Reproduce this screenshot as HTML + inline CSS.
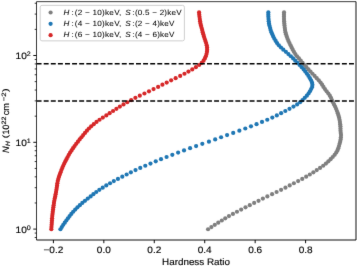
<!DOCTYPE html>
<html><head><meta charset="utf-8"><style>
html,body{margin:0;padding:0;background:#fff;}
svg{display:block;will-change:transform;text-rendering:geometricPrecision;font-family:"Liberation Sans",sans-serif;}
</style></head><body>
<svg width="357" height="266" viewBox="0 0 357 266">
<defs><filter id="bl" x="0" y="0" width="357" height="266" filterUnits="userSpaceOnUse" color-interpolation-filters="sRGB"><feConvolveMatrix order="3" kernelMatrix="0.00524 0.06192 0.00524 0.06192 0.73137 0.06192 0.00524 0.06192 0.00524" divisor="1" edgeMode="none"/></filter></defs>
<rect width="357" height="266" fill="#fff"/>
<g filter="url(#bl)">
<g fill="#7f7f7f"><circle cx="208.06" cy="229.25" r="2.1"/><circle cx="211.41" cy="227.06" r="2.1"/><circle cx="214.81" cy="224.87" r="2.1"/><circle cx="218.27" cy="222.68" r="2.1"/><circle cx="221.81" cy="220.49" r="2.1"/><circle cx="225.26" cy="218.30" r="2.1"/><circle cx="228.96" cy="216.11" r="2.1"/><circle cx="232.95" cy="213.92" r="2.1"/><circle cx="236.98" cy="211.73" r="2.1"/><circle cx="241.16" cy="209.54" r="2.1"/><circle cx="245.50" cy="207.35" r="2.1"/><circle cx="249.78" cy="205.16" r="2.1"/><circle cx="254.15" cy="202.97" r="2.1"/><circle cx="258.53" cy="200.78" r="2.1"/><circle cx="262.89" cy="198.59" r="2.1"/><circle cx="267.36" cy="196.40" r="2.1"/><circle cx="272.08" cy="194.21" r="2.1"/><circle cx="276.59" cy="192.02" r="2.1"/><circle cx="281.10" cy="189.83" r="2.1"/><circle cx="285.44" cy="187.64" r="2.1"/><circle cx="289.68" cy="185.45" r="2.1"/><circle cx="293.87" cy="183.26" r="2.1"/><circle cx="298.15" cy="181.07" r="2.1"/><circle cx="302.24" cy="178.88" r="2.1"/><circle cx="306.17" cy="176.69" r="2.1"/><circle cx="309.84" cy="174.50" r="2.1"/><circle cx="313.38" cy="172.31" r="2.1"/><circle cx="316.77" cy="170.12" r="2.1"/><circle cx="320.06" cy="167.93" r="2.1"/><circle cx="323.19" cy="165.74" r="2.1"/><circle cx="325.93" cy="163.55" r="2.1"/><circle cx="328.36" cy="161.36" r="2.1"/><circle cx="330.59" cy="159.17" r="2.1"/><circle cx="332.69" cy="156.98" r="2.1"/><circle cx="334.66" cy="154.79" r="2.1"/><circle cx="336.26" cy="152.60" r="2.1"/><circle cx="337.45" cy="150.41" r="2.1"/><circle cx="338.31" cy="148.22" r="2.1"/><circle cx="339.00" cy="146.03" r="2.1"/><circle cx="339.60" cy="143.84" r="2.1"/><circle cx="340.18" cy="141.65" r="2.1"/><circle cx="340.63" cy="139.46" r="2.1"/><circle cx="340.90" cy="137.27" r="2.1"/><circle cx="341.00" cy="135.08" r="2.1"/><circle cx="340.75" cy="132.89" r="2.1"/><circle cx="340.50" cy="130.70" r="2.1"/><circle cx="340.48" cy="128.51" r="2.1"/><circle cx="340.43" cy="126.32" r="2.1"/><circle cx="340.17" cy="124.13" r="2.1"/><circle cx="339.89" cy="121.94" r="2.1"/><circle cx="339.54" cy="119.76" r="2.1"/><circle cx="339.07" cy="117.57" r="2.1"/><circle cx="338.48" cy="115.38" r="2.1"/><circle cx="337.78" cy="113.19" r="2.1"/><circle cx="336.97" cy="111.00" r="2.1"/><circle cx="336.07" cy="108.81" r="2.1"/><circle cx="335.09" cy="106.62" r="2.1"/><circle cx="334.02" cy="104.43" r="2.1"/><circle cx="332.90" cy="102.24" r="2.1"/><circle cx="331.90" cy="100.05" r="2.1"/><circle cx="330.96" cy="97.86" r="2.1"/><circle cx="329.83" cy="95.67" r="2.1"/><circle cx="328.36" cy="93.48" r="2.1"/><circle cx="326.65" cy="91.29" r="2.1"/><circle cx="324.94" cy="89.10" r="2.1"/><circle cx="323.46" cy="86.91" r="2.1"/><circle cx="322.09" cy="84.72" r="2.1"/><circle cx="320.56" cy="82.53" r="2.1"/><circle cx="318.76" cy="80.34" r="2.1"/><circle cx="316.73" cy="78.15" r="2.1"/><circle cx="314.61" cy="75.96" r="2.1"/><circle cx="312.49" cy="73.77" r="2.1"/><circle cx="310.46" cy="71.58" r="2.1"/><circle cx="308.42" cy="69.39" r="2.1"/><circle cx="306.42" cy="67.20" r="2.1"/><circle cx="304.47" cy="65.01" r="2.1"/><circle cx="302.57" cy="62.82" r="2.1"/><circle cx="300.73" cy="60.63" r="2.1"/><circle cx="298.91" cy="58.44" r="2.1"/><circle cx="297.03" cy="56.25" r="2.1"/><circle cx="295.32" cy="54.06" r="2.1"/><circle cx="293.92" cy="51.87" r="2.1"/><circle cx="292.71" cy="49.68" r="2.1"/><circle cx="291.64" cy="47.49" r="2.1"/><circle cx="290.60" cy="45.30" r="2.1"/><circle cx="289.47" cy="43.11" r="2.1"/><circle cx="288.44" cy="40.92" r="2.1"/><circle cx="287.54" cy="38.73" r="2.1"/><circle cx="286.75" cy="36.54" r="2.1"/><circle cx="286.01" cy="34.35" r="2.1"/><circle cx="285.45" cy="32.16" r="2.1"/><circle cx="285.04" cy="29.97" r="2.1"/><circle cx="284.74" cy="27.78" r="2.1"/><circle cx="284.50" cy="25.59" r="2.1"/><circle cx="284.30" cy="23.40" r="2.1"/><circle cx="284.10" cy="21.21" r="2.1"/><circle cx="284.01" cy="19.02" r="2.1"/><circle cx="283.96" cy="16.83" r="2.1"/><circle cx="283.97" cy="14.64" r="2.1"/><circle cx="284.04" cy="12.45" r="2.1"/></g>
<g fill="#1f77b4"><circle cx="60.41" cy="229.25" r="2.1"/><circle cx="61.81" cy="227.06" r="2.1"/><circle cx="63.27" cy="224.87" r="2.1"/><circle cx="64.78" cy="222.68" r="2.1"/><circle cx="66.34" cy="220.49" r="2.1"/><circle cx="67.94" cy="218.30" r="2.1"/><circle cx="69.61" cy="216.11" r="2.1"/><circle cx="71.33" cy="213.92" r="2.1"/><circle cx="73.18" cy="211.73" r="2.1"/><circle cx="75.23" cy="209.54" r="2.1"/><circle cx="77.45" cy="207.35" r="2.1"/><circle cx="79.84" cy="205.16" r="2.1"/><circle cx="82.33" cy="202.97" r="2.1"/><circle cx="84.97" cy="200.78" r="2.1"/><circle cx="87.77" cy="198.59" r="2.1"/><circle cx="90.62" cy="196.40" r="2.1"/><circle cx="93.38" cy="194.21" r="2.1"/><circle cx="96.27" cy="192.02" r="2.1"/><circle cx="99.37" cy="189.83" r="2.1"/><circle cx="102.72" cy="187.64" r="2.1"/><circle cx="106.29" cy="185.45" r="2.1"/><circle cx="110.05" cy="183.26" r="2.1"/><circle cx="113.83" cy="181.07" r="2.1"/><circle cx="117.96" cy="178.88" r="2.1"/><circle cx="122.29" cy="176.69" r="2.1"/><circle cx="126.63" cy="174.50" r="2.1"/><circle cx="130.89" cy="172.31" r="2.1"/><circle cx="135.53" cy="170.12" r="2.1"/><circle cx="140.26" cy="167.93" r="2.1"/><circle cx="145.28" cy="165.74" r="2.1"/><circle cx="150.48" cy="163.55" r="2.1"/><circle cx="155.76" cy="161.36" r="2.1"/><circle cx="161.01" cy="159.17" r="2.1"/><circle cx="166.57" cy="156.98" r="2.1"/><circle cx="172.33" cy="154.79" r="2.1"/><circle cx="178.11" cy="152.60" r="2.1"/><circle cx="184.04" cy="150.41" r="2.1"/><circle cx="190.08" cy="148.22" r="2.1"/><circle cx="196.10" cy="146.03" r="2.1"/><circle cx="202.32" cy="143.84" r="2.1"/><circle cx="208.95" cy="141.65" r="2.1"/><circle cx="215.18" cy="139.46" r="2.1"/><circle cx="221.09" cy="137.27" r="2.1"/><circle cx="227.09" cy="135.08" r="2.1"/><circle cx="233.21" cy="132.89" r="2.1"/><circle cx="239.36" cy="130.70" r="2.1"/><circle cx="245.30" cy="128.51" r="2.1"/><circle cx="250.98" cy="126.32" r="2.1"/><circle cx="256.54" cy="124.13" r="2.1"/><circle cx="262.02" cy="121.94" r="2.1"/><circle cx="267.28" cy="119.76" r="2.1"/><circle cx="272.31" cy="117.57" r="2.1"/><circle cx="276.83" cy="115.38" r="2.1"/><circle cx="281.11" cy="113.19" r="2.1"/><circle cx="285.31" cy="111.00" r="2.1"/><circle cx="289.49" cy="108.81" r="2.1"/><circle cx="293.50" cy="106.62" r="2.1"/><circle cx="297.13" cy="104.43" r="2.1"/><circle cx="300.09" cy="102.24" r="2.1"/><circle cx="302.53" cy="100.05" r="2.1"/><circle cx="304.78" cy="97.86" r="2.1"/><circle cx="306.85" cy="95.67" r="2.1"/><circle cx="308.55" cy="93.48" r="2.1"/><circle cx="309.91" cy="91.29" r="2.1"/><circle cx="311.14" cy="89.10" r="2.1"/><circle cx="312.19" cy="86.91" r="2.1"/><circle cx="312.41" cy="84.72" r="2.1"/><circle cx="311.99" cy="82.53" r="2.1"/><circle cx="311.09" cy="80.34" r="2.1"/><circle cx="309.88" cy="78.15" r="2.1"/><circle cx="308.46" cy="75.96" r="2.1"/><circle cx="306.91" cy="73.77" r="2.1"/><circle cx="305.29" cy="71.58" r="2.1"/><circle cx="303.69" cy="69.39" r="2.1"/><circle cx="301.70" cy="67.20" r="2.1"/><circle cx="299.59" cy="65.01" r="2.1"/><circle cx="297.39" cy="62.82" r="2.1"/><circle cx="295.26" cy="60.63" r="2.1"/><circle cx="293.12" cy="58.44" r="2.1"/><circle cx="290.86" cy="56.25" r="2.1"/><circle cx="288.41" cy="54.06" r="2.1"/><circle cx="285.87" cy="51.87" r="2.1"/><circle cx="283.29" cy="49.68" r="2.1"/><circle cx="280.97" cy="47.49" r="2.1"/><circle cx="278.86" cy="45.30" r="2.1"/><circle cx="277.04" cy="43.11" r="2.1"/><circle cx="275.68" cy="40.92" r="2.1"/><circle cx="274.37" cy="38.73" r="2.1"/><circle cx="273.24" cy="36.54" r="2.1"/><circle cx="272.31" cy="34.35" r="2.1"/><circle cx="271.40" cy="32.16" r="2.1"/><circle cx="270.59" cy="29.97" r="2.1"/><circle cx="270.07" cy="27.78" r="2.1"/><circle cx="269.43" cy="25.59" r="2.1"/><circle cx="268.99" cy="23.40" r="2.1"/><circle cx="268.73" cy="21.21" r="2.1"/><circle cx="268.53" cy="19.02" r="2.1"/><circle cx="268.39" cy="16.83" r="2.1"/><circle cx="268.33" cy="14.64" r="2.1"/><circle cx="268.34" cy="12.45" r="2.1"/></g>
<g fill="#d62728"><circle cx="51.32" cy="229.25" r="2.1"/><circle cx="51.47" cy="227.06" r="2.1"/><circle cx="51.63" cy="224.87" r="2.1"/><circle cx="51.78" cy="222.68" r="2.1"/><circle cx="51.92" cy="220.49" r="2.1"/><circle cx="52.08" cy="218.30" r="2.1"/><circle cx="52.28" cy="216.11" r="2.1"/><circle cx="52.52" cy="213.92" r="2.1"/><circle cx="52.78" cy="211.73" r="2.1"/><circle cx="53.05" cy="209.54" r="2.1"/><circle cx="53.34" cy="207.35" r="2.1"/><circle cx="53.64" cy="205.16" r="2.1"/><circle cx="53.95" cy="202.97" r="2.1"/><circle cx="54.30" cy="200.78" r="2.1"/><circle cx="54.72" cy="198.59" r="2.1"/><circle cx="55.19" cy="196.40" r="2.1"/><circle cx="55.63" cy="194.21" r="2.1"/><circle cx="56.04" cy="192.02" r="2.1"/><circle cx="56.41" cy="189.83" r="2.1"/><circle cx="56.74" cy="187.64" r="2.1"/><circle cx="57.06" cy="185.45" r="2.1"/><circle cx="57.37" cy="183.26" r="2.1"/><circle cx="57.76" cy="181.07" r="2.1"/><circle cx="58.31" cy="178.88" r="2.1"/><circle cx="59.01" cy="176.69" r="2.1"/><circle cx="59.79" cy="174.50" r="2.1"/><circle cx="60.59" cy="172.31" r="2.1"/><circle cx="61.41" cy="170.12" r="2.1"/><circle cx="62.29" cy="167.93" r="2.1"/><circle cx="63.24" cy="165.74" r="2.1"/><circle cx="64.27" cy="163.55" r="2.1"/><circle cx="65.34" cy="161.36" r="2.1"/><circle cx="66.45" cy="159.17" r="2.1"/><circle cx="67.62" cy="156.98" r="2.1"/><circle cx="68.84" cy="154.79" r="2.1"/><circle cx="70.15" cy="152.60" r="2.1"/><circle cx="71.56" cy="150.41" r="2.1"/><circle cx="73.03" cy="148.22" r="2.1"/><circle cx="74.59" cy="146.03" r="2.1"/><circle cx="76.23" cy="143.84" r="2.1"/><circle cx="77.92" cy="141.65" r="2.1"/><circle cx="79.65" cy="139.46" r="2.1"/><circle cx="81.41" cy="137.27" r="2.1"/><circle cx="83.18" cy="135.08" r="2.1"/><circle cx="85.01" cy="132.89" r="2.1"/><circle cx="86.93" cy="130.70" r="2.1"/><circle cx="88.91" cy="128.51" r="2.1"/><circle cx="91.17" cy="126.32" r="2.1"/><circle cx="93.76" cy="124.13" r="2.1"/><circle cx="96.51" cy="121.94" r="2.1"/><circle cx="99.53" cy="119.76" r="2.1"/><circle cx="102.84" cy="117.57" r="2.1"/><circle cx="106.30" cy="115.38" r="2.1"/><circle cx="109.61" cy="113.19" r="2.1"/><circle cx="113.04" cy="111.00" r="2.1"/><circle cx="116.41" cy="108.81" r="2.1"/><circle cx="119.87" cy="106.62" r="2.1"/><circle cx="123.49" cy="104.43" r="2.1"/><circle cx="127.27" cy="102.24" r="2.1"/><circle cx="131.20" cy="100.05" r="2.1"/><circle cx="135.39" cy="97.86" r="2.1"/><circle cx="139.80" cy="95.67" r="2.1"/><circle cx="144.43" cy="93.48" r="2.1"/><circle cx="148.99" cy="91.29" r="2.1"/><circle cx="153.55" cy="89.10" r="2.1"/><circle cx="158.13" cy="86.91" r="2.1"/><circle cx="162.42" cy="84.72" r="2.1"/><circle cx="166.71" cy="82.53" r="2.1"/><circle cx="171.14" cy="80.34" r="2.1"/><circle cx="175.64" cy="78.15" r="2.1"/><circle cx="180.18" cy="75.96" r="2.1"/><circle cx="184.46" cy="73.77" r="2.1"/><circle cx="188.43" cy="71.58" r="2.1"/><circle cx="192.25" cy="69.39" r="2.1"/><circle cx="195.88" cy="67.20" r="2.1"/><circle cx="199.13" cy="65.01" r="2.1"/><circle cx="201.73" cy="62.82" r="2.1"/><circle cx="203.60" cy="60.63" r="2.1"/><circle cx="204.88" cy="58.44" r="2.1"/><circle cx="205.81" cy="56.25" r="2.1"/><circle cx="206.51" cy="54.06" r="2.1"/><circle cx="206.97" cy="51.87" r="2.1"/><circle cx="207.15" cy="49.68" r="2.1"/><circle cx="207.09" cy="47.49" r="2.1"/><circle cx="206.73" cy="45.30" r="2.1"/><circle cx="206.12" cy="43.11" r="2.1"/><circle cx="205.40" cy="40.92" r="2.1"/><circle cx="204.65" cy="38.73" r="2.1"/><circle cx="203.94" cy="36.54" r="2.1"/><circle cx="203.33" cy="34.35" r="2.1"/><circle cx="202.74" cy="32.16" r="2.1"/><circle cx="202.16" cy="29.97" r="2.1"/><circle cx="201.55" cy="27.78" r="2.1"/><circle cx="200.96" cy="25.59" r="2.1"/><circle cx="200.46" cy="23.40" r="2.1"/><circle cx="200.08" cy="21.21" r="2.1"/><circle cx="199.78" cy="19.02" r="2.1"/><circle cx="199.50" cy="16.83" r="2.1"/><circle cx="199.27" cy="14.64" r="2.1"/><circle cx="199.09" cy="12.45" r="2.1"/></g>
<g stroke="#000" stroke-width="1.5" stroke-dasharray="4.95 2.15">
<line x1="36.6" y1="63.85" x2="356.0" y2="63.85"/>
<line x1="36.6" y1="100.9" x2="356.0" y2="100.9"/>
</g>
<path d="M36.5,240.0 V1.65 H356.0" fill="none" stroke="#303030" stroke-width="0.95"/><path d="M356.0,1.65 V240.0 H36.5" fill="none" stroke="#000" stroke-width="0.95"/>
<g stroke="#000" stroke-width="0.95"><line x1="53.40" y1="240.0" x2="53.40" y2="243.2"/><line x1="103.84" y1="240.0" x2="103.84" y2="243.2"/><line x1="154.28" y1="240.0" x2="154.28" y2="243.2"/><line x1="204.72" y1="240.0" x2="204.72" y2="243.2"/><line x1="255.16" y1="240.0" x2="255.16" y2="243.2"/><line x1="305.60" y1="240.0" x2="305.60" y2="243.2"/><line x1="33.3" y1="229.10" x2="36.5" y2="229.10"/><line x1="33.3" y1="142.30" x2="36.5" y2="142.30"/><line x1="33.3" y1="55.50" x2="36.5" y2="55.50"/></g>
<g stroke="#000" stroke-width="0.8"><line x1="34.7" y1="237.51" x2="36.5" y2="237.51"/><line x1="34.7" y1="233.07" x2="36.5" y2="233.07"/><line x1="34.7" y1="202.97" x2="36.5" y2="202.97"/><line x1="34.7" y1="187.69" x2="36.5" y2="187.69"/><line x1="34.7" y1="176.84" x2="36.5" y2="176.84"/><line x1="34.7" y1="168.43" x2="36.5" y2="168.43"/><line x1="34.7" y1="161.56" x2="36.5" y2="161.56"/><line x1="34.7" y1="155.75" x2="36.5" y2="155.75"/><line x1="34.7" y1="150.71" x2="36.5" y2="150.71"/><line x1="34.7" y1="146.27" x2="36.5" y2="146.27"/><line x1="34.7" y1="116.17" x2="36.5" y2="116.17"/><line x1="34.7" y1="100.89" x2="36.5" y2="100.89"/><line x1="34.7" y1="90.04" x2="36.5" y2="90.04"/><line x1="34.7" y1="81.63" x2="36.5" y2="81.63"/><line x1="34.7" y1="74.76" x2="36.5" y2="74.76"/><line x1="34.7" y1="68.95" x2="36.5" y2="68.95"/><line x1="34.7" y1="63.91" x2="36.5" y2="63.91"/><line x1="34.7" y1="59.47" x2="36.5" y2="59.47"/><line x1="34.7" y1="29.37" x2="36.5" y2="29.37"/><line x1="34.7" y1="14.09" x2="36.5" y2="14.09"/><line x1="34.7" y1="3.24" x2="36.5" y2="3.24"/></g>
<g font-size="9.4" fill="#000" stroke="#000" stroke-width="0.15"><text transform="translate(53.40,252.70) scale(1.070,1)" text-anchor="middle">−0.2</text><text transform="translate(103.84,252.70) scale(1.070,1)" text-anchor="middle">0.0</text><text transform="translate(154.28,252.70) scale(1.070,1)" text-anchor="middle">0.2</text><text transform="translate(204.72,252.70) scale(1.070,1)" text-anchor="middle">0.4</text><text transform="translate(255.16,252.70) scale(1.070,1)" text-anchor="middle">0.6</text><text transform="translate(305.60,252.70) scale(1.070,1)" text-anchor="middle">0.8</text></g>
<g font-size="9.4" fill="#000" stroke="#000" stroke-width="0.15"><text transform="translate(15.50,233.00) scale(1.080,1)">10</text><text transform="translate(26.70,229.90) scale(1.080,1)" font-size="6.6">0</text><text transform="translate(15.50,146.20) scale(1.080,1)">10</text><text transform="translate(26.70,143.10) scale(1.080,1)" font-size="6.6">1</text><text transform="translate(15.50,59.40) scale(1.080,1)">10</text><text transform="translate(26.70,56.30) scale(1.080,1)" font-size="6.6">2</text></g>
<g font-size="9.4" fill="#000" stroke="#000" stroke-width="0.15"><text transform="translate(196.00,264.60) scale(1.050,1)" text-anchor="middle">Hardness Ratio</text></g>
<g font-size="9.4" fill="#000" stroke="#000" stroke-width="0.15"><g transform="rotate(-90)"><text x="-152.95" y="9.00" font-size="9.3" textLength="6.70" lengthAdjust="spacingAndGlyphs" font-style="italic">N</text><text x="-145.95" y="9.90" font-size="6.2" textLength="4.70" lengthAdjust="spacingAndGlyphs" font-style="italic">H</text><text x="-138.35" y="8.20" font-size="7.8" textLength="3.40" lengthAdjust="spacingAndGlyphs">(</text><text x="-134.45" y="9.00" font-size="9.3" textLength="9.70" lengthAdjust="spacingAndGlyphs">10</text><text x="-124.40" y="5.90" font-size="6.3" textLength="7.90" lengthAdjust="spacingAndGlyphs">22</text><text x="-115.30" y="9.00" font-size="9.3" textLength="12.40" lengthAdjust="spacingAndGlyphs">cm</text><text x="-101.30" y="5.90" font-size="6.3" textLength="9.00" lengthAdjust="spacingAndGlyphs">−2</text><text x="-92.05" y="8.20" font-size="7.8" textLength="3.60" lengthAdjust="spacingAndGlyphs">)</text></g></g>
<rect x="40.2" y="5.35" width="144.2" height="35.5" rx="1.8" fill="#fff" fill-opacity="0.8" stroke="#cfcfcf" stroke-width="1.0"/>
<circle cx="50.6" cy="12.5" r="2.1" fill="#7f7f7f"/>
<circle cx="50.6" cy="23.8" r="2.1" fill="#1f77b4"/>
<circle cx="50.6" cy="35.2" r="2.1" fill="#d62728"/>
<g font-size="7.5" fill="#000" stroke="#000" stroke-width="0.05"><text transform="translate(63.60,14.50) scale(1.080,1)"><tspan font-style="italic">H</tspan></text><text transform="translate(71.40,14.50) scale(1.080,1)">:</text><text transform="translate(74.70,14.50) scale(1.090,1)" letter-spacing="0.22">(2 − 10)keV,</text><text transform="translate(125.30,14.50) scale(1.080,1)"><tspan font-style="italic">S</tspan></text><text transform="translate(132.20,14.50) scale(1.080,1)">:</text><text transform="translate(134.90,14.50) scale(1.075,1)" letter-spacing="0.22">(0.5 − 2)keV</text><text transform="translate(63.60,25.70) scale(1.080,1)"><tspan font-style="italic">H</tspan></text><text transform="translate(71.40,25.70) scale(1.080,1)">:</text><text transform="translate(74.70,25.70) scale(1.090,1)" letter-spacing="0.22">(4 − 10)keV,</text><text transform="translate(125.30,25.70) scale(1.080,1)"><tspan font-style="italic">S</tspan></text><text transform="translate(132.20,25.70) scale(1.080,1)">:</text><text transform="translate(134.90,25.70) scale(1.075,1)" letter-spacing="0.22">(2 − 4)keV</text><text transform="translate(63.60,36.90) scale(1.080,1)"><tspan font-style="italic">H</tspan></text><text transform="translate(71.40,36.90) scale(1.080,1)">:</text><text transform="translate(74.70,36.90) scale(1.090,1)" letter-spacing="0.22">(6 − 10)keV,</text><text transform="translate(125.30,36.90) scale(1.080,1)"><tspan font-style="italic">S</tspan></text><text transform="translate(132.20,36.90) scale(1.080,1)">:</text><text transform="translate(134.90,36.90) scale(1.075,1)" letter-spacing="0.22">(4 − 6)keV</text></g>
</g>
</svg>
</body></html>
